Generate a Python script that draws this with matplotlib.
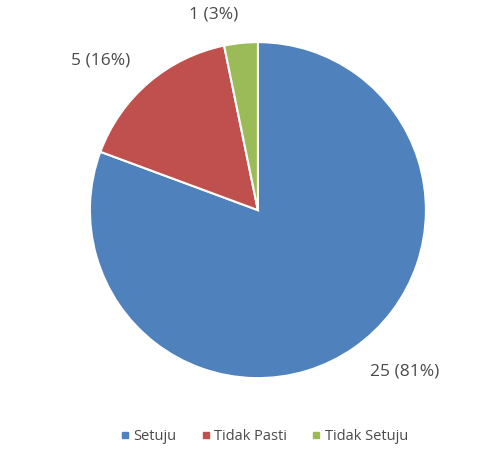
import matplotlib
matplotlib.use("Agg")
import matplotlib.pyplot as plt
from matplotlib.lines import Line2D

categories = ["Setuju", "Tidak Pasti", "Tidak Setuju"]
counts = [25, 5, 1]
colors = ["#4F81BD", "#C0504D", "#9BBB59"]

plt.rcParams["font.family"] = ["Open Sans", "DejaVu Sans"]
text_color = "#4a4a4a"

total = sum(counts)
labels = ["%d (%d%%)" % (c, round(100.0 * c / total)) for c in counts]

fig = plt.figure(figsize=(4.96, 4.5), dpi=100)
ax = fig.add_axes([0.520 - 0.3387, 0.533 - 0.3733, 0.6774, 0.7467])

wedges, texts = ax.pie(
    counts,
    labels=labels,
    colors=colors,
    startangle=90,
    counterclock=False,
    labeldistance=1.17,
    wedgeprops=dict(edgecolor="white", linewidth=1.5),
    textprops=dict(fontsize=12.5, color=text_color),
)
ax.set_aspect("equal")
ax.set_xlim(-1, 1)
ax.set_ylim(-1, 1)

handles = [Line2D([], [], marker="s", linestyle="none", markersize=5,
                  markerfacecolor=c, markeredgecolor=c) for c in colors]
fig.legend(handles, categories, loc="center", bbox_to_anchor=(0.53, 0.029),
           ncol=3, frameon=False, fontsize=10.5, labelcolor=text_color,
           handletextpad=0.1, columnspacing=1.5, handlelength=1.0)

fig.savefig("out.png", dpi=100)
